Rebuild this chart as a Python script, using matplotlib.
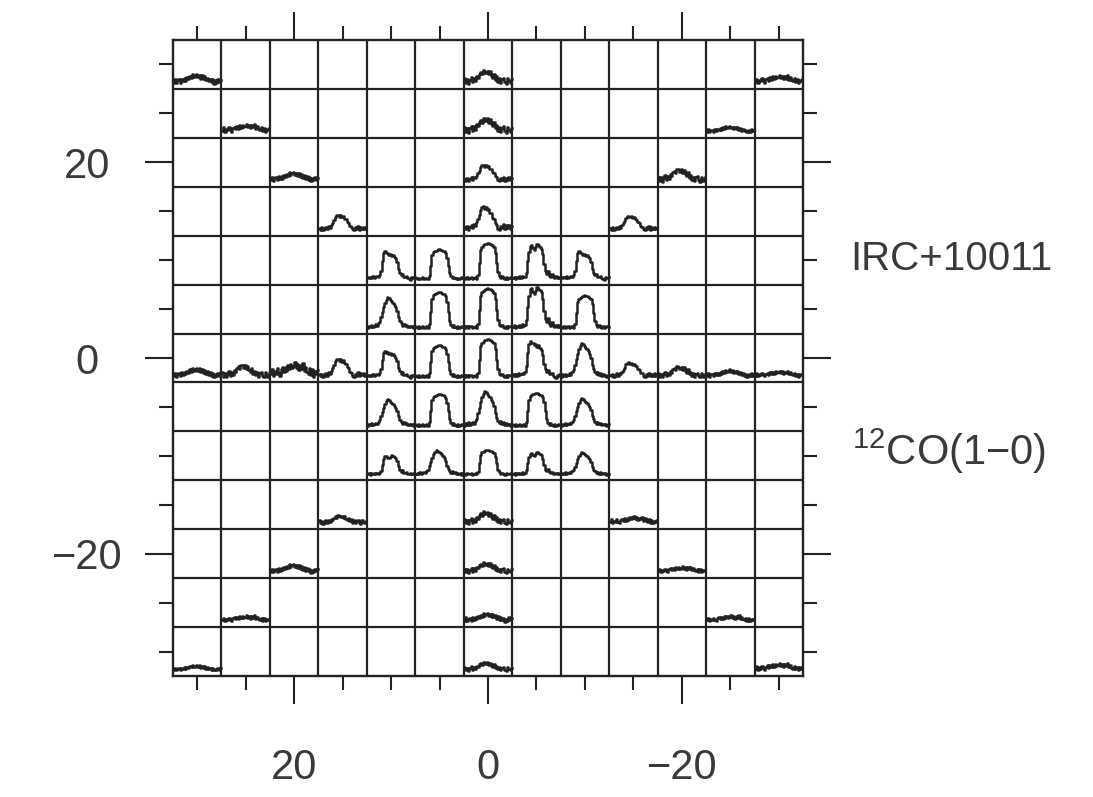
import matplotlib
matplotlib.use('Agg')
import matplotlib.pyplot as plt
from matplotlib.ticker import MultipleLocator, FixedLocator

plt.rcParams['font.family'] = ['Liberation Sans', 'DejaVu Sans']
plt.rcParams['mathtext.fontset'] = 'custom'
plt.rcParams['mathtext.rm'] = 'Liberation Sans'

# map grid: 13 x 13 positions, 5 arcsec spacing
STEP = 5.0
HALF = 32.5

# spectral line templates (normalised, 36 channels)
strong_a = [0.03, -0.01, 0.04, 0.00, 0.03, 0.05, -0.01, 0.02, 0.04, 0.00, 0.10, 0.45,
            0.80, 0.90, 0.93, 0.96, 0.98, 1.00, 0.99, 0.97, 0.95, 0.93, 0.88, 0.72,
            0.45, 0.20, 0.08, 0.03, 0.07, 0.01, -0.02, 0.04, 0.00, 0.03, 0.05, 0.01]
strong_b = [0.06, 0.01, 0.07, 0.02, 0.09, 0.04, 0.08, 0.11, 0.07, 0.14, 0.30, 0.65,
            0.92, 1.00, 0.93, 0.95, 0.88, 0.91, 0.84, 0.87, 0.80, 0.74, 0.60, 0.35,
            0.22, 0.12, 0.19, 0.08, 0.06, 0.10, 0.02, 0.00, -0.05, 0.05, 0.01, 0.06]
strong_c = [0.02, 0.06, -0.01, 0.05, 0.01, 0.07, 0.02, 0.09, 0.04, 0.06, 0.18, 0.50,
            0.78, 0.94, 0.98, 0.88, 0.84, 0.91, 1.00, 0.96, 0.93, 0.87, 0.70, 0.42,
            0.22, 0.14, 0.23, 0.09, 0.05, 0.13, 0.04, 0.01, 0.07, 0.02, 0.06, 0.01]
strong_d = [0.00, 0.07, 0.01, 0.09, 0.02, 0.06, 0.11, 0.05, 0.14, 0.20, 0.35, 0.52,
            0.68, 0.82, 0.92, 1.00, 0.96, 0.90, 0.86, 0.82, 0.75, 0.68, 0.55, 0.35,
            0.22, 0.14, 0.07, 0.13, 0.04, 0.10, 0.02, 0.07, 0.01, 0.05, -0.01, 0.04]
med_a = [0.12, 0.02, 0.17, -0.02, 0.14, 0.22, 0.06, 0.27, 0.15, 0.33, 0.48, 0.63,
         0.86, 0.96, 1.00, 0.88, 0.96, 0.83, 0.90, 0.74, 0.72, 0.52, 0.47, 0.28,
         0.22, 0.03, 0.00, 0.17, 0.06, 0.26, 0.02, 0.20, 0.07, 0.22, 0.05, 0.16]
weak_a = [0.05, 0.45, 0.00, 0.30, 0.40, 0.05, 0.50, 0.20, 0.55, 0.25, 0.65, 0.40,
          0.80, 0.55, 0.95, 0.65, 0.85, 1.00, 0.65, 0.90, 0.50, 0.85, 0.45, 0.75,
          0.30, 0.60, 0.20, 0.50, 0.10, 0.40, -0.05, 0.30, 0.05, 0.45, 0.10, 0.35]
weak_b = [0.35, 0.00, 0.30, -0.05, 0.25, 0.45, 0.05, 0.40, 0.15, 0.55, 0.40, 0.70,
          0.85, 0.65, 1.00, 0.95, 0.75, 0.95, 0.65, 0.90, 0.55, 0.40, 0.70, 0.25,
          0.50, 0.10, 0.35, 0.00, 0.30, 0.40, 0.05, -0.05, 0.35, 0.15, 0.00, 0.30]
weak_c = [0.15, 0.55, 0.05, 0.40, 0.20, 0.60, 0.25, 0.05, 0.50, 0.65, 0.30, 0.70,
          0.40, 0.80, 0.50, 0.90, 0.60, 0.75, 1.00, 0.60, 0.90, 0.45, 0.80, 0.55,
          0.95, 0.40, 0.70, 0.35, 0.20, 0.60, 0.10, 0.50, 0.00, 0.40, 0.20, 0.45]
templates = {'a': strong_a, 'b': strong_b, 'c': strong_c, 'd': strong_d,
             'm': med_a, 'wa': weak_a, 'wb': weak_b, 'wc': weak_c}

# observed positions (arcsec offsets), peak T (K) and template
ra_off = [10, 5, 0, -5, -10,
          10, 5, 0, -5, -10,
          10, 5, 0, -5, -10,
          10, 5, 0, -5, -10,
          10, 5, 0, -5, -10,
          30, 25, 20, 15, -15, -20, -25, -30,
          30, 0, -30, 25, 0, -25, 20, 0, -20, 15, 0, -15,
          15, 0, -15, 20, 0, -20, 25, 0, -25, 30, 0, -30]
dec_off = [10, 10, 10, 10, 10,
           5, 5, 5, 5, 5,
           0, 0, 0, 0, 0,
           -5, -5, -5, -5, -5,
           -10, -10, -10, -10, -10,
           0, 0, 0, 0, 0, 0, 0, 0,
           30, 30, 30, 25, 25, 25, 20, 20, 20, 15, 15, 15,
           -15, -15, -15, -20, -20, -20, -25, -25, -25, -30, -30, -30]
peak_K = [0.73, 0.78, 0.95, 0.92, 0.73,
          0.81, 0.95, 1.05, 1.08, 0.86,
          0.68, 0.84, 1.00, 0.95, 0.89,
          0.70, 0.84, 0.92, 0.86, 0.73,
          0.51, 0.65, 0.65, 0.59, 0.59,
          0.24, 0.32, 0.38, 0.48, 0.38, 0.27, 0.19, 0.16,
          0.24, 0.35, 0.22, 0.22, 0.38, 0.16, 0.24, 0.43, 0.32, 0.40, 0.62, 0.38,
          0.22, 0.32, 0.19, 0.22, 0.27, 0.16, 0.16, 0.22, 0.16, 0.14, 0.22, 0.19]
profile = ['b', 'a', 'a', 'c', 'b',
           'd', 'a', 'a', 'c', 'a',
           'b', 'a', 'a', 'b', 'd',
           'd', 'a', 'd', 'a', 'd',
           'c', 'd', 'a', 'c', 'd',
           'wa', 'wb', 'wc', 'm', 'm', 'wb', 'wa', 'wc',
           'wa', 'wb', 'wc', 'wc', 'wb', 'wa', 'wa', 'm', 'wb', 'm', 'm', 'm',
           'wb', 'wb', 'wc', 'wa', 'wb', 'wc', 'wc', 'wa', 'wc', 'wa', 'wb', 'wc']

major_ticks = [-20, 0, 20]
tick_labels = ['\u221220', '0', '20']

fig = plt.figure(figsize=(10.93, 7.97), dpi=100)
ax = fig.add_axes([0.1583, 0.1518, 0.5764, 0.7980])

line_col = '#222222'
text_col = '#3a3a3a'

# cell boundaries
for k in range(1, 13):
    b = -HALF + k * STEP
    ax.axvline(b, color=line_col, lw=1.6, zorder=1)
    ax.axhline(b, color=line_col, lw=1.6, zorder=1)

# spectra
t_scale = 3.85     # arcsec per K inside a cell
base_off = 0.6     # baseline above cell bottom
for dx, dy, tk, pid in zip(ra_off, dec_off, peak_K, profile):
    prof = templates[pid]
    n = len(prof)
    left = dx + STEP / 2
    xs = [left - (i + 0.5) * STEP / n for i in range(n)]
    ys = [dy - STEP / 2 + base_off + v * tk * t_scale for v in prof]
    ax.plot(xs, ys, drawstyle='steps-mid', color=line_col, lw=1.8, zorder=2)

ax.set_xlim(HALF, -HALF)
ax.set_ylim(-HALF, HALF)

for side in ax.spines.values():
    side.set_linewidth(1.7)
    side.set_color(line_col)

ax.xaxis.set_major_locator(FixedLocator(major_ticks))
ax.yaxis.set_major_locator(FixedLocator(major_ticks))
ax.xaxis.set_minor_locator(MultipleLocator(5))
ax.yaxis.set_minor_locator(MultipleLocator(5))
ax.set_xticklabels(tick_labels)
ax.set_yticklabels(tick_labels)

ax.tick_params(which='both', direction='out', top=True, right=True,
               color=line_col, width=1.5)
ax.tick_params(which='major', length=20, labelsize=30, labelcolor=text_col)
ax.tick_params(axis='x', which='major', pad=32)
ax.tick_params(axis='y', which='major', pad=42)
ax.tick_params(which='minor', length=10)
for lab in ax.get_yticklabels():
    lab.set_horizontalalignment('center')

fig.text(0.7777, 0.661, 'IRC+10011', fontsize=29, color=text_col, va='baseline')
fig.text(0.7795, 0.4166, '$\\mathregular{^{12}}$CO(1\u22120)', fontsize=30,
         color=text_col, va='baseline')

fig.savefig('out.png', dpi=100)
